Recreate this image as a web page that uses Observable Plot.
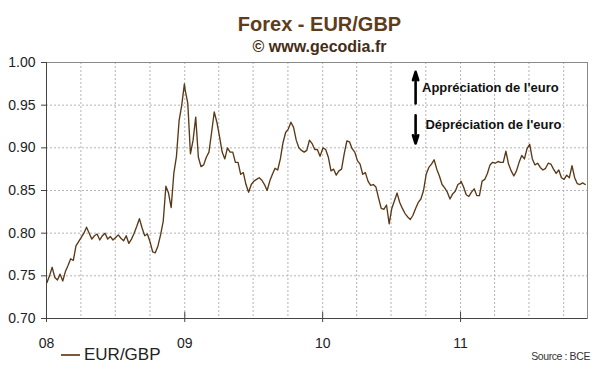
<!DOCTYPE html>
<html>
<head>
<meta charset="utf-8">
<script src="https://cdn.jsdelivr.net/npm/d3@7"></script>
<script src="https://cdn.jsdelivr.net/npm/@observablehq/plot@0.6"></script>
<style>
  html, body { margin: 0; padding: 0; background: #fff; }
  #wrap { position: relative; width: 600px; height: 372px; overflow: hidden; font-family: Arial, "Liberation Sans", sans-serif; }
  #wrap svg { position: absolute; left: 0; top: 0; }
  .ov { position: absolute; white-space: nowrap; }
</style>
</head>
<body>
<div id="wrap"></div>
<script>
// ---- Data (weekly readings of the EUR/GBP reference rate) ----
const years = [2008, 2009, 2010, 2011];
const eurgbp2008 = [0.742,0.750,0.760,0.748,0.745,0.752,0.744,0.755,0.762,0.770,
  0.768,0.785,0.790,0.795,0.800,0.807,0.800,0.793,0.797,0.799,
  0.792,0.797,0.800,0.793,0.796,0.792,0.795,0.798,0.794,0.791,
  0.797,0.788,0.793,0.800,0.808,0.817,0.806,0.797,0.799,0.790,
  0.778,0.777,0.785,0.798,0.814,0.855,0.847,0.830,0.870,0.890,
  0.932,0.950,0.975];
const eurgbp2009 = [0.968,0.952,0.893,0.909,0.936,0.889,0.878,0.880,0.889,0.895,
  0.918,0.942,0.930,0.913,0.895,0.887,0.900,0.895,0.895,0.883,
  0.883,0.869,0.871,0.857,0.848,0.857,0.861,0.863,0.865,0.862,
  0.857,0.850,0.861,0.869,0.876,0.874,0.887,0.906,0.918,0.922,
  0.930,0.924,0.909,0.900,0.897,0.895,0.897,0.909,0.905,0.898,
  0.898,0.890];
const eurgbp2010 = [0.900,0.898,0.889,0.873,0.875,0.868,0.873,0.875,0.893,0.908,
  0.907,0.899,0.895,0.885,0.881,0.869,0.871,0.861,0.856,0.857,
  0.854,0.841,0.829,0.828,0.833,0.811,0.829,0.838,0.847,0.836,
  0.829,0.823,0.819,0.816,0.821,0.829,0.836,0.840,0.850,0.869,
  0.877,0.881,0.886,0.875,0.867,0.857,0.853,0.848,0.840,0.846,
  0.849,0.857,0.859];
const eurgbp2011 = [0.861,0.854,0.845,0.843,0.848,0.852,0.844,0.844,0.861,0.863,
  0.870,0.880,0.883,0.882,0.884,0.883,0.883,0.896,0.881,0.873,
  0.867,0.873,0.883,0.891,0.887,0.899,0.904,0.887,0.880,0.882,
  0.877,0.874,0.876,0.882,0.881,0.875,0.870,0.874,0.865,0.863,
  0.868,0.865,0.879,0.865,0.858,0.857,0.859,0.857];
const seriesByYear = [eurgbp2008, eurgbp2009, eurgbp2010, eurgbp2011];

const yTickValues = [0.70, 0.75, 0.80, 0.85, 0.90, 0.95, 1.00];
const xTickLabels = ["08", "09", "10", "11"];

const annLabels = ["Appréciation de l'euro", "Dépréciation de l'euro"];
const annDates = ["2010-09-21", "2010-09-30"];
const annValues = [0.970, 0.9275];
const arrowDate = "2010-09-04";
const arrowFrom = [0.952, 0.938];
const arrowTo = [0.989, 0.905];

const title = "Forex - EUR/GBP";
const subtitle = "© www.gecodia.fr";
const legendLabel = "EUR/GBP";
const sourceText = "Source : BCE";

// ---- Build tables ----
const data = seriesByYear.flatMap((vals, k) =>
  vals.map((v, i) => ({date: new Date(Date.UTC(years[k], 0, 2 + 7 * i)), value: v})));
const xStart = new Date(Date.UTC(2008, 0, 1));
const xEnd = new Date(Date.UTC(2011, 11, 3));
const yearTicks = years.map(y => new Date(Date.UTC(y, 0, 1)));
const quarterTicks = d3.utcMonth.every(3).range(xStart, xEnd).filter(d => d > xStart);
const labels = annLabels.map((t, i) => ({text: t, date: new Date(annDates[i]), value: annValues[i]}));
const arrows = arrowFrom.map((f, i) => ({date: new Date(arrowDate), from: f, to: arrowTo[i]}));

const chart = Plot.plot({
  width: 600,
  height: 372,
  marginTop: 62,
  marginRight: 13,
  marginBottom: 54,
  marginLeft: 46,
  style: {fontFamily: "Arial, 'Liberation Sans', sans-serif", background: "transparent", color: "#222"},
  x: {type: "utc", domain: [xStart, xEnd]},
  y: {domain: [0.70, 1.00]},
  marks: [
    Plot.gridY(yTickValues.slice(1, -1), {stroke: "#b4b4b4", strokeOpacity: 1, strokeDasharray: "2,2"}),
    Plot.gridX(quarterTicks, {stroke: "#b4b4b4", strokeOpacity: 1, strokeDasharray: "2,2"}),
    Plot.frame({stroke: "#8a8a8a"}),
    Plot.ruleY([0.70], {stroke: "#444"}),
    Plot.ruleX([xStart], {stroke: "#444"}),
    Plot.ruleX(yearTicks.slice(1), {y1: 0.70, y2: 0.7072, stroke: "#444"}),
    Plot.axisY({ticks: yTickValues, tickFormat: d3.format(".2f"), tickSize: 5, tickPadding: 6,
      fontSize: 14, label: null, stroke: "#444", fill: "#222"}),
    Plot.axisX({ticks: yearTicks, tickFormat: (d, i) => xTickLabels[i], tickSize: 4, tickPadding: 16,
      fontSize: 14, label: null, stroke: "#444", fill: "#222"}),
    Plot.lineY(data, {x: "date", y: "value", stroke: "#5b3916", strokeWidth: 1.35}),
    Plot.arrow(arrows, {x1: "date", x2: "date", y1: "from", y2: "to", stroke: "#000",
      strokeWidth: 2.6, headLength: 5, headAngle: 35}),
    Plot.text(labels, {x: "date", y: "value", text: "text", textAnchor: "start",
      fontWeight: "bold", fontSize: 13, fill: "#111"})
  ]
});

const wrap = document.getElementById("wrap");
wrap.appendChild(chart);

function overlay(text, css) {
  const d = document.createElement("div");
  d.className = "ov";
  d.textContent = text;
  Object.assign(d.style, css);
  wrap.appendChild(d);
  return d;
}
overlay(title, {left: "0px", width: "639px", textAlign: "center", top: "14px",
  fontSize: "20px", lineHeight: "20px", fontWeight: "bold", color: "#5e3d1c"});
overlay(subtitle, {left: "0px", width: "639px", textAlign: "center", top: "39px",
  fontSize: "16px", lineHeight: "16px", fontWeight: "bold", color: "#452d15"});
const leg = document.createElement("div");
Object.assign(leg.style, {position: "absolute", left: "61px", top: "354px", width: "19px",
  height: "1.5px", background: "#7a5a3d"});
wrap.appendChild(leg);
overlay(legendLabel, {left: "84px", top: "346px", fontSize: "17px", lineHeight: "17px", color: "#222"});
overlay(sourceText, {right: "10px", top: "351px", fontSize: "10.5px", lineHeight: "10px",
  color: "#333", letterSpacing: "-0.4px"});
</script>
</body>
</html>
